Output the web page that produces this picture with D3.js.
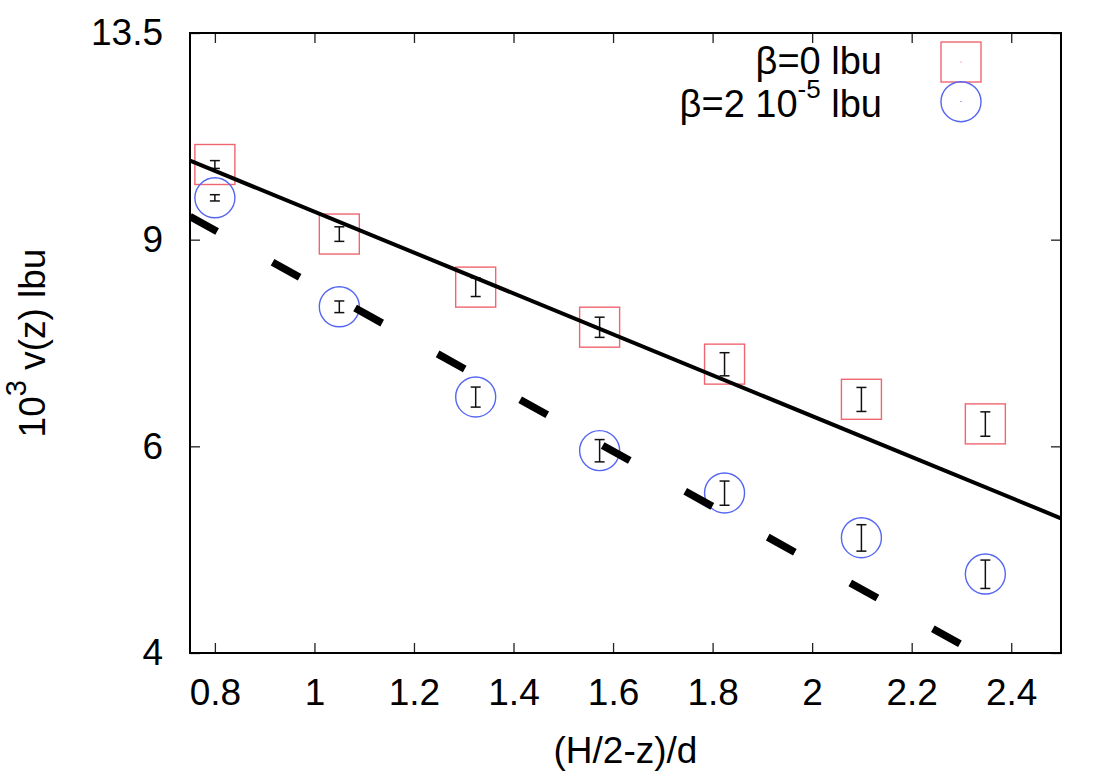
<!DOCTYPE html>
<html lang="en">
<head>
    <meta charset="UTF-8">
    <script src="https://d3js.org/d3.v7.min.js"></script>
    <title>v(z) vs (H/2-z)/d</title>
    <style>
        body{
            margin: 0;
            background: #fff;
        }
        svg{
            font-family: "Liberation Sans", Arial, sans-serif;
        }
    </style>
</head>
<body>
<svg width="1112" height="776"></svg>
<script>
// data
let xVals = [0.8, 1.05, 1.324, 1.573, 1.824, 2.099, 2.348]
let beta0 = [10.43, 9.10, 8.20, 7.58, 7.05, 6.58, 6.27]
let beta0Err = [0.08, 0.13, 0.15, 0.15, 0.16, 0.155, 0.15]
let beta2 = [9.77, 7.89, 6.61, 5.95, 5.475, 5.015, 4.67]
let beta2Err = [0.06, 0.09, 0.13, 0.13, 0.13, 0.13, 0.13]
// fitted lines (end points)
let fit0X = [0.75, 2.5]
let fit0Y = [10.51, 5.21]
let fit2X = [0.75, 2.3]
let fit2Y = [9.42, 4.066]
let xTicks = [0.8, 1, 1.2, 1.4, 1.6, 1.8, 2, 2.2, 2.4]
let yTicks = [4, 6, 9, 13.5]

let svg = d3.select("svg")
let mLeft = 190, mRight = 1061, mTop = 33, mBottom = 653

let x = d3.scaleLinear().domain([0.75, 2.5]).range([mLeft, mRight])
let y = d3.scaleLog().domain([4, 13.5]).range([mBottom, mTop])

svg.append("defs").append("clipPath").attr("id", "plotclip")
    .append("rect").attr("x", mLeft).attr("y", mTop)
    .attr("width", mRight - mLeft).attr("height", mBottom - mTop)

// axes with inward ticks, mirrored on top and right
let fmt = d => String(d)
svg.append("g").attr("transform", `translate(0,${mBottom})`)
    .call(d3.axisBottom(x).tickValues(xTicks).tickFormat(fmt).tickSizeInner(-10).tickSizeOuter(0).tickPadding(26))
svg.append("g").attr("transform", `translate(0,${mTop})`)
    .call(d3.axisTop(x).tickValues(xTicks).tickFormat("").tickSizeInner(-10).tickSizeOuter(0))
svg.append("g").attr("transform", `translate(${mLeft},0)`)
    .call(d3.axisLeft(y).tickValues(yTicks).tickFormat(fmt).tickSizeInner(-10).tickSizeOuter(0).tickPadding(27))
svg.append("g").attr("transform", `translate(${mRight},0)`)
    .call(d3.axisRight(y).tickValues(yTicks).tickFormat("").tickSizeInner(-10).tickSizeOuter(0))
svg.selectAll(".domain").remove()
svg.selectAll(".tick line").attr("stroke", "#222").attr("stroke-width", 1.3)
svg.selectAll(".tick text").attr("font-size", 37).attr("fill", "#000")
    .style("font-family", "'Liberation Sans', Arial, sans-serif")

svg.append("rect").attr("x", mLeft).attr("y", mTop)
    .attr("width", mRight - mLeft).attr("height", mBottom - mTop)
    .attr("fill", "none").attr("stroke", "#000").attr("stroke-width", 2)

// data points
let pts0 = xVals.map((d, i) => ({x: d, y: beta0[i], e: beta0Err[i]}))
let pts2 = xVals.map((d, i) => ({x: d, y: beta2[i], e: beta2Err[i]}))

svg.selectAll("rect.sq").data(pts0).enter().append("rect").attr("class", "sq")
    .attr("x", d => x(d.x) - 20).attr("y", d => y(d.y) - 20)
    .attr("width", 40).attr("height", 40)
    .attr("fill", "none").attr("stroke", "#f06670").attr("stroke-width", 1.4)

svg.selectAll("circle.ci").data(pts2).enter().append("circle").attr("class", "ci")
    .attr("cx", d => x(d.x)).attr("cy", d => y(d.y)).attr("r", 20)
    .attr("fill", "none").attr("stroke", "#5566f2").attr("stroke-width", 1.4)

function errorBars(data) {
    let g = svg.append("g").attr("stroke", "#111").attr("stroke-width", 1.5)
    data.forEach(d => {
        let cx = x(d.x), y1 = y(d.y - d.e), y2 = y(d.y + d.e)
        g.append("line").attr("x1", cx).attr("x2", cx).attr("y1", y1).attr("y2", y2)
        g.append("line").attr("x1", cx - 5).attr("x2", cx + 5).attr("y1", y1).attr("y2", y1)
        g.append("line").attr("x1", cx - 5).attr("x2", cx + 5).attr("y1", y2).attr("y2", y2)
    })
}
errorBars(pts0)
errorBars(pts2)

// fit lines
let line = d3.line().x(d => x(d[0])).y(d => y(d[1]))
let lines = svg.append("g").attr("clip-path", "url(#plotclip)")
lines.append("path").datum(d3.zip(fit0X, fit0Y)).attr("d", line)
    .attr("fill", "none").attr("stroke", "#000").attr("stroke-width", 4)
lines.append("path").datum(d3.zip(fit2X, fit2Y)).attr("d", line)
    .attr("fill", "none").attr("stroke", "#000").attr("stroke-width", 7.5)
    .attr("stroke-dasharray", "31,63.4")

// legend
let legend = svg.append("g").attr("font-size", 38)
legend.append("text").attr("x", 882).attr("y", 74).attr("text-anchor", "end").text("β=0 lbu")
let l2 = legend.append("text").attr("x", 882).attr("y", 117).attr("text-anchor", "end")
l2.append("tspan").text("β=2 10")
l2.append("tspan").attr("dy", -19).attr("font-size", 26).text("-5")
l2.append("tspan").attr("dy", 19).text(" lbu")
legend.append("rect").attr("x", 941).attr("y", 42).attr("width", 40).attr("height", 40)
    .attr("fill", "none").attr("stroke", "#f06670").attr("stroke-width", 1.4)
legend.append("circle").attr("cx", 961).attr("cy", 101.7).attr("r", 20)
    .attr("fill", "none").attr("stroke", "#5566f2").attr("stroke-width", 1.4)
legend.append("rect").attr("x", 960.5).attr("y", 61.5).attr("width", 1).attr("height", 1).attr("fill", "#f06670")
legend.append("rect").attr("x", 960.5).attr("y", 101).attr("width", 1).attr("height", 1).attr("fill", "#5566f2")

// axis titles
svg.append("text").attr("x", (mLeft + mRight) / 2).attr("y", 763)
    .attr("text-anchor", "middle").attr("font-size", 37).text("(H/2-z)/d")
let yt = svg.append("text").attr("transform", `translate(45,${(mTop + mBottom) / 2}) rotate(-90)`)
    .attr("text-anchor", "middle").attr("font-size", 37)
yt.append("tspan").text("10")
yt.append("tspan").attr("dy", -19).attr("font-size", 29).text("3")
yt.append("tspan").attr("dy", 19).text(" v(z) lbu")
</script>
</body>
</html>
